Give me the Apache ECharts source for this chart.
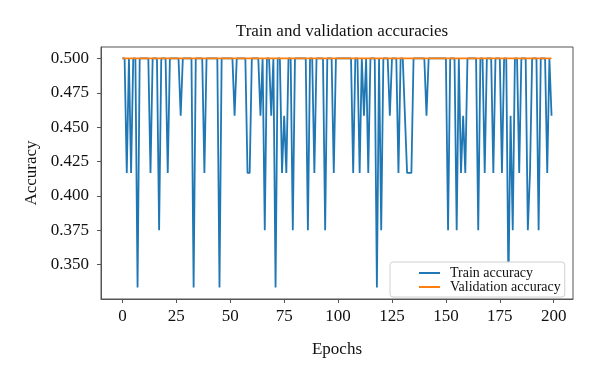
<!DOCTYPE html>
<html>
<head>
<meta charset="utf-8">
<script src="https://cdn.jsdelivr.net/npm/echarts@6/dist/echarts.min.js"></script>
<style>html,body{margin:0;padding:0;background:#fff}#c{width:600px;height:376px}</style>
</head>
<body>
<div id="c"></div>
<script>
var titleText = 'Train and validation accuracies';
var xName = 'Epochs';
var yName = 'Accuracy';
var seriesNames = ['Train accuracy', 'Validation accuracy'];
var xTicks = [0, 25, 50, 75, 100, 125, 150, 175, 200];
var yTicks = [0.350, 0.375, 0.400, 0.425, 0.450, 0.475, 0.500];

// accuracy per epoch (epochs 0..199)
var trainAcc = [
  0.5, 0.5, 0.4167, 0.5, 0.4167, 0.5, 0.5, 0.3333, 0.5, 0.5,
  0.5, 0.5, 0.5, 0.4167, 0.5, 0.5, 0.5, 0.375, 0.5, 0.5,
  0.5, 0.4167, 0.5, 0.5, 0.5, 0.5, 0.5, 0.4583, 0.5, 0.5,
  0.5, 0.5, 0.5, 0.3333, 0.5, 0.5, 0.5, 0.5, 0.4167, 0.5,
  0.5, 0.5, 0.5, 0.5, 0.5, 0.3333, 0.5, 0.5, 0.5, 0.5,
  0.5, 0.5, 0.4583, 0.5, 0.5, 0.5, 0.5, 0.5, 0.4167, 0.4167,
  0.5, 0.5, 0.5, 0.5, 0.4583, 0.5, 0.375, 0.5, 0.5, 0.4583,
  0.5, 0.3333, 0.5, 0.5, 0.4167, 0.4583, 0.4167, 0.5, 0.5, 0.375,
  0.5, 0.5, 0.5, 0.5, 0.5, 0.5, 0.375, 0.5, 0.5, 0.4167,
  0.5, 0.5, 0.5, 0.5, 0.375, 0.5, 0.5, 0.5, 0.4167, 0.5,
  0.5, 0.5, 0.5, 0.5, 0.5, 0.5, 0.5, 0.4167, 0.5, 0.5,
  0.4167, 0.5, 0.4583, 0.5, 0.4167, 0.5, 0.5, 0.5, 0.3333, 0.5,
  0.375, 0.5, 0.5, 0.5, 0.4583, 0.5, 0.5, 0.5, 0.4167, 0.5,
  0.5, 0.4583, 0.4167, 0.4167, 0.4167, 0.5, 0.5, 0.5, 0.5, 0.5,
  0.5, 0.4583, 0.5, 0.5, 0.5, 0.5, 0.5, 0.5, 0.5, 0.5,
  0.5, 0.375, 0.5, 0.5, 0.5, 0.375, 0.5, 0.4167, 0.4583, 0.4167,
  0.5, 0.5, 0.5, 0.5, 0.5, 0.375, 0.5, 0.5, 0.4167, 0.5,
  0.5, 0.5, 0.4167, 0.5, 0.5, 0.5, 0.4167, 0.5, 0.5, 0.3333,
  0.4583, 0.375, 0.5, 0.5, 0.4167, 0.5, 0.5, 0.5, 0.375, 0.4167,
  0.5, 0.5, 0.5, 0.375, 0.5, 0.5, 0.5, 0.4167, 0.5, 0.4583
];
var valAcc = [
  0.5, 0.5, 0.5, 0.5, 0.5, 0.5, 0.5, 0.5, 0.5, 0.5, 0.5, 0.5, 0.5, 0.5, 0.5, 0.5, 0.5, 0.5, 0.5, 0.5,
  0.5, 0.5, 0.5, 0.5, 0.5, 0.5, 0.5, 0.5, 0.5, 0.5, 0.5, 0.5, 0.5, 0.5, 0.5, 0.5, 0.5, 0.5, 0.5, 0.5,
  0.5, 0.5, 0.5, 0.5, 0.5, 0.5, 0.5, 0.5, 0.5, 0.5, 0.5, 0.5, 0.5, 0.5, 0.5, 0.5, 0.5, 0.5, 0.5, 0.5,
  0.5, 0.5, 0.5, 0.5, 0.5, 0.5, 0.5, 0.5, 0.5, 0.5, 0.5, 0.5, 0.5, 0.5, 0.5, 0.5, 0.5, 0.5, 0.5, 0.5,
  0.5, 0.5, 0.5, 0.5, 0.5, 0.5, 0.5, 0.5, 0.5, 0.5, 0.5, 0.5, 0.5, 0.5, 0.5, 0.5, 0.5, 0.5, 0.5, 0.5,
  0.5, 0.5, 0.5, 0.5, 0.5, 0.5, 0.5, 0.5, 0.5, 0.5, 0.5, 0.5, 0.5, 0.5, 0.5, 0.5, 0.5, 0.5, 0.5, 0.5,
  0.5, 0.5, 0.5, 0.5, 0.5, 0.5, 0.5, 0.5, 0.5, 0.5, 0.5, 0.5, 0.5, 0.5, 0.5, 0.5, 0.5, 0.5, 0.5, 0.5,
  0.5, 0.5, 0.5, 0.5, 0.5, 0.5, 0.5, 0.5, 0.5, 0.5, 0.5, 0.5, 0.5, 0.5, 0.5, 0.5, 0.5, 0.5, 0.5, 0.5,
  0.5, 0.5, 0.5, 0.5, 0.5, 0.5, 0.5, 0.5, 0.5, 0.5, 0.5, 0.5, 0.5, 0.5, 0.5, 0.5, 0.5, 0.5, 0.5, 0.5,
  0.5, 0.5, 0.5, 0.5, 0.5, 0.5, 0.5, 0.5, 0.5, 0.5, 0.5, 0.5, 0.5, 0.5, 0.5, 0.5, 0.5, 0.5, 0.5, 0.5
];

var serif = '"Liberation Serif", "DejaVu Serif", serif';
var chart = echarts.init(document.getElementById('c'), null, {renderer: 'canvas'});
function pairs(arr) { return arr.map(function (v, i) { return [i, v]; }); }

chart.setOption({
  animation: false,
  backgroundColor: '#ffffff',
  title: {
    text: titleText,
    left: 337, top: 18, textAlign: 'center',
    textStyle: {fontFamily: serif, fontSize: 17, fontWeight: 'normal', color: '#111'}
  },
  grid: {
    left: 101, right: 27, top: 47, bottom: 77,
    show: true, borderColor: '#555', borderWidth: 1, backgroundColor: 'transparent'
  },
  legend: {
    orient: 'vertical',
    left: 390, top: 262,
    padding: [4, 4, 3, 29],
    itemGap: 0,
    itemWidth: 21, itemHeight: 2,
    itemStyle: {borderWidth: 0},
    icon: 'rect',
    backgroundColor: '#fff',
    borderColor: '#d0d0d0', borderWidth: 1, borderRadius: 3,
    textStyle: {fontFamily: serif, fontSize: 14, color: '#111', lineHeight: 14, padding: [0, 0, 0, 5]},
    data: seriesNames
  },
  xAxis: {
    type: 'value', min: -9.95, max: 208.95,
    name: xName, nameLocation: 'middle', nameGap: 42,
    nameTextStyle: {fontFamily: serif, fontSize: 17, color: '#111'},
    axisLine: {show: true, onZero: false, lineStyle: {color: '#555', width: 1}},
    axisTick: {show: true, length: 4, lineStyle: {color: '#555'}, customValues: xTicks},
    axisLabel: {fontFamily: serif, fontSize: 17, color: '#111', margin: 9, customValues: xTicks,
      formatter: function (v) { return String(v); }},
    splitLine: {show: false}
  },
  yAxis: {
    type: 'value', min: 0.325, max: 0.5083,
    name: yName, nameLocation: 'middle', nameGap: 61, nameRotate: 90,
    nameTextStyle: {fontFamily: serif, fontSize: 17, color: '#111'},
    axisLine: {show: true, onZero: false, lineStyle: {color: '#555', width: 1}},
    axisTick: {show: true, length: 4, lineStyle: {color: '#555'}, customValues: yTicks},
    axisLabel: {fontFamily: serif, fontSize: 17, color: '#111', margin: 12, customValues: yTicks,
      formatter: function (v) { return v.toFixed(3); }},
    splitLine: {show: false}
  },
  series: [
    {
      name: seriesNames[0], type: 'line', data: pairs(trainAcc),
      showSymbol: false, symbol: 'none',
      lineStyle: {color: '#1f77b4', width: 1.8},
      itemStyle: {color: '#1f77b4'}, z: 2
    },
    {
      name: seriesNames[1], type: 'line', data: pairs(valAcc),
      showSymbol: false, symbol: 'none',
      lineStyle: {color: '#ff7f0e', width: 1.8},
      itemStyle: {color: '#ff7f0e'}, z: 3
    }
  ]
});
</script>
</body>
</html>
